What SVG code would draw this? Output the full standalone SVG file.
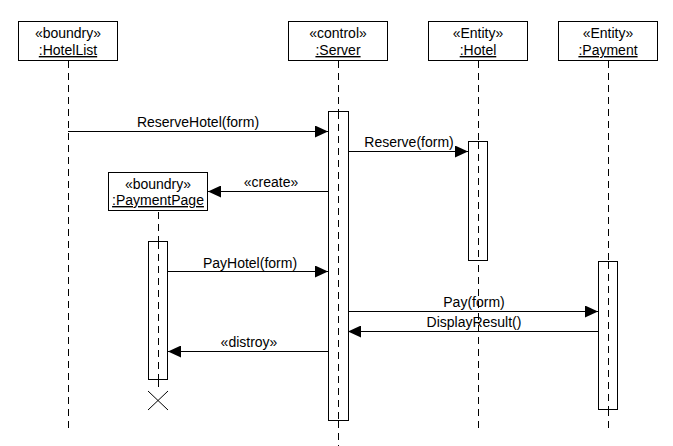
<svg xmlns="http://www.w3.org/2000/svg" width="673" height="446" viewBox="0 0 673 446">
<style>
.box{fill:#fff;stroke:#000;stroke-width:1}
.life{stroke:#000;stroke-width:1;stroke-dasharray:7 5;fill:none}
.act{fill:#fff;stroke:#000;stroke-width:1}
.msg{stroke:#000;stroke-width:1;fill:none;marker-end:url(#arr)}
text{font-family:"Liberation Sans",Arial,sans-serif;font-size:14px;fill:#000;text-anchor:middle}
.u{text-decoration:underline}
</style>
<defs>
<marker id="arr" markerWidth="13" markerHeight="12" refX="13" refY="6" orient="auto" markerUnits="userSpaceOnUse">
<path d="M0,0 L13,6 L0,12 Z" fill="#000"/>
</marker>
</defs>
<rect width="673" height="446" fill="#fff"/>
<g id="lifelines">
<line class="life" x1="68.5" y1="61" x2="68.5" y2="432"/>
<line class="life" x1="338.5" y1="61" x2="338.5" y2="446"/>
<line class="life" x1="478.5" y1="61" x2="478.5" y2="432"/>
<line class="life" x1="608.5" y1="61" x2="608.5" y2="432"/>
<line class="life" x1="158.5" y1="212" x2="158.5" y2="391"/>
</g>
<g id="HotelList">
<rect class="box" x="18.5" y="21.5" width="99" height="39"/>
<text x="68" y="38">«boundry»</text>
<text x="68" y="55" class="u">:HotelList</text>
</g>
<g id="Server">
<rect class="box" x="288.5" y="21.5" width="99" height="39"/>
<text x="338" y="38">«control»</text>
<text x="338" y="55" class="u">:Server</text>
<rect class="act" x="328.5" y="111.5" width="20" height="309"/>
<line class="life" x1="338.5" y1="112" x2="338.5" y2="420"/>
</g>
<g id="Hotel">
<rect class="box" x="428.5" y="21.5" width="99" height="39"/>
<text x="478" y="38">«Entity»</text>
<text x="478" y="55" class="u">:Hotel</text>
<rect class="act" x="468.5" y="141.5" width="19" height="119"/>
<line class="life" x1="478.5" y1="142" x2="478.5" y2="260"/>
</g>
<g id="Payment">
<rect class="box" x="558.5" y="21.5" width="99" height="39"/>
<text x="608" y="38">«Entity»</text>
<text x="608" y="55" class="u">:Payment</text>
<rect class="act" x="598.5" y="261.5" width="19" height="148"/>
<line class="life" x1="608.5" y1="262" x2="608.5" y2="409"/>
</g>
<g id="PaymentPage">
<rect class="box" x="108.5" y="172.5" width="99" height="38"/>
<text x="158" y="189">«boundry»</text>
<text x="158" y="205" class="u">:PaymentPage</text>
<rect class="act" x="148.5" y="241.5" width="19" height="138"/>
<line class="life" x1="158.5" y1="242" x2="158.5" y2="379"/>
<path d="M148,391 L168,410 M168,391 L148,410" stroke="#000" stroke-width="1" fill="none"/>
</g>
<g id="connectors">
<line class="msg" x1="68" y1="131.5" x2="328" y2="131.5"/>
<text x="198" y="127">ReserveHotel(form)</text>
<line class="msg" x1="348" y1="151.5" x2="468" y2="151.5"/>
<text x="409" y="147">Reserve(form)</text>
<line class="msg" x1="328" y1="191.5" x2="208" y2="191.5"/>
<text x="271" y="187">«create»</text>
<line class="msg" x1="168" y1="271.5" x2="328" y2="271.5"/>
<text x="250" y="268">PayHotel(form)</text>
<line class="msg" x1="348" y1="311.5" x2="598" y2="311.5"/>
<text x="474" y="307">Pay(form)</text>
<line class="msg" x1="598" y1="331.5" x2="348" y2="331.5"/>
<text x="474" y="327">DisplayResult()</text>
<line class="msg" x1="328" y1="351.5" x2="168" y2="351.5"/>
<text x="249" y="347">«distroy»</text>
</g>
</svg>
